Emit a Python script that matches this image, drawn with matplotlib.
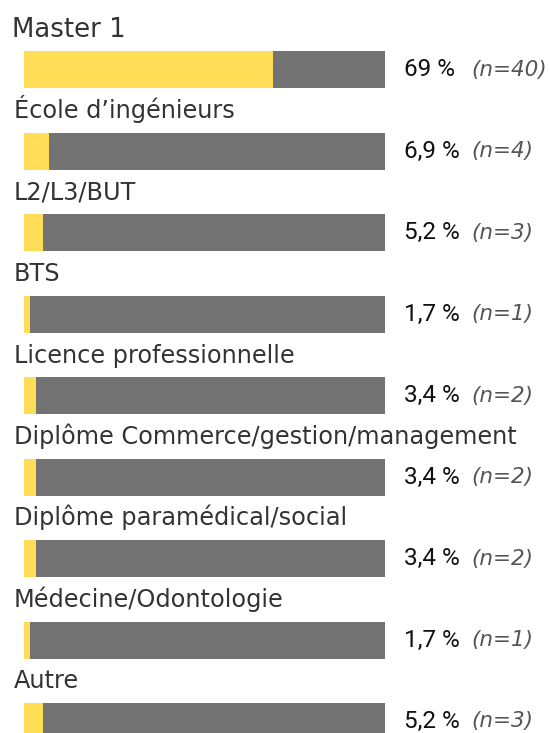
import matplotlib
matplotlib.use("Agg")
import matplotlib.pyplot as plt

categories = [
    "Master 1",
    "École d\u2019ingénieurs",
    "L2/L3/BUT",
    "BTS",
    "Licence professionnelle",
    "Diplôme Commerce/gestion/management",
    "Diplôme paramédical/social",
    "Médecine/Odontologie",
    "Autre",
]
pct_values = [69, 6.9, 5.2, 1.7, 3.4, 3.4, 3.4, 1.7, 5.2]
pct_labels = ["69 %", "6,9 %", "5,2 %", "1,7 %", "3,4 %", "3,4 %", "3,4 %", "1,7 %", "5,2 %"]
counts = [40, 4, 3, 1, 2, 2, 2, 1, 3]

YELLOW = "#FFDD57"
GRAY = "#737373"
LABEL_C = "#333333"
VAL_C = "#111111"
N_C = "#555555"

W, H = 550, 733
fig = plt.figure(figsize=(W / 100, H / 100), dpi=100)
ax = fig.add_axes([0, 0, 1, 1])
ax.axis("off")

# pixel mapping: bar from x=24px (0) to x=385px (100); rows every 81.5px from 69.5px
px_per_unit = 3.61
x0_px = 24
row_px = 81.5
y0_px = 69.5
ax.set_xlim(-x0_px / px_per_unit, (W - x0_px) / px_per_unit)
ax.set_ylim((H - y0_px) / row_px, -y0_px / row_px)

bar_h = 37 / row_px
ys = list(range(len(categories)))
rest = [100 - v for v in pct_values]
ax.barh(ys, pct_values, left=0, height=bar_h, color=YELLOW, linewidth=0)
ax.barh(ys, rest, left=pct_values, height=bar_h, color=GRAY, linewidth=0)

label_font = "DejaVu Sans"
for i, cat in enumerate(categories):
    yb = i - bar_h / 2 - 14.5 / row_px
    if i == 0:
        ax.text(-12.5 / px_per_unit, yb, cat, fontsize=18.7, family=label_font,
                color=LABEL_C, va="baseline", ha="left")
    else:
        ax.text(-10 / px_per_unit, yb, cat, fontsize=17.3, family=label_font,
                color=LABEL_C, va="baseline", ha="left")
    ax.text((404 - x0_px) / px_per_unit, i, pct_labels[i], fontsize=17.5,
            family="Roboto", color=VAL_C, va="center", ha="left")
    ax.text((471 - x0_px) / px_per_unit, i, f"(n={counts[i]})", fontsize=15.5,
            family="DejaVu Sans", style="italic", color=N_C, va="center", ha="left")

fig.savefig("out.png", dpi=100)
